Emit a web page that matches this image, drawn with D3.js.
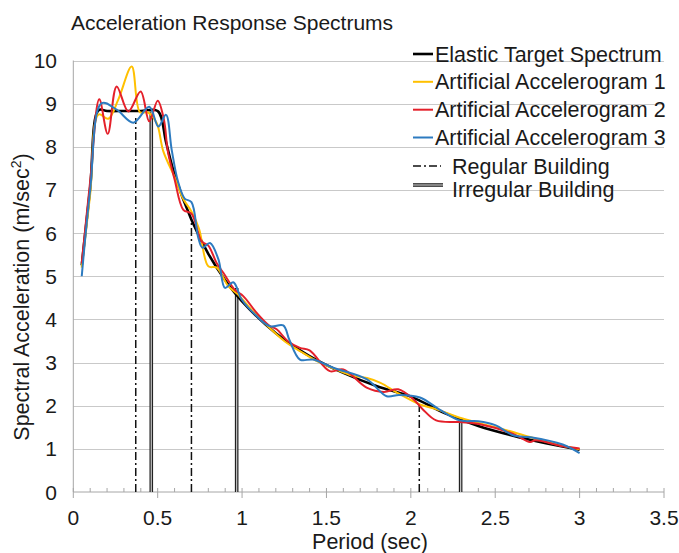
<!DOCTYPE html>
<html>
<head>
<meta charset="utf-8">
<script src="https://cdnjs.cloudflare.com/ajax/libs/d3/7.8.5/d3.min.js"></script>
<style>
  html, body { margin: 0; padding: 0; background: #fff; }
  svg text { font-family: "Liberation Sans", Arial, sans-serif; fill: #1a1a1a; }
  .grid line { stroke: #c9c9c9; stroke-width: 1; }
  .axis-line { stroke: #a6a6a6; stroke-width: 1; }
</style>
</head>
<body>
<svg id="chart" width="679" height="553"></svg>
<script>
/* ---------- data ---------- */
const xTicks = [0, 0.5, 1, 1.5, 2, 2.5, 3, 3.5];
const yTicks = [0, 1, 2, 3, 4, 5, 6, 7, 8, 9, 10];

// elastic target spectrum
const targetT  = [0.05, 0.1, 0.15, 0.2, 0.3, 0.4, 0.5, 0.55, 0.6, 0.7, 0.8, 0.9, 1.0, 1.2, 1.4, 1.6, 1.8, 2.0, 2.2, 2.4, 2.6, 2.8, 3.0];
const targetSa = [5.25, 7.05, 8.85, 8.83, 8.83, 8.83, 8.83, 8.1, 7.36, 6.31, 5.52, 4.91, 4.42, 3.68, 3.15, 2.76, 2.45, 2.21, 1.83, 1.53, 1.31, 1.13, 0.98];

// artificial accelerogram 1 (yellow)
const acc1T  = [0.05, 0.1, 0.15, 0.207, 0.267, 0.346, 0.395, 0.44, 0.494, 0.533, 0.6, 0.65, 0.7, 0.745, 0.8, 0.85, 0.918, 0.97, 1.05, 1.15, 1.25, 1.35, 1.45, 1.55, 1.65, 1.74, 1.82, 1.92, 2.054, 2.15, 2.29, 2.4, 2.55, 2.7, 2.85, 3.0];
const acc1Sa = [5.2, 6.9, 8.75, 8.65, 9.1, 9.86, 8.8, 8.8, 8.55, 7.9, 7.3, 6.8, 6.5, 6.1, 5.23, 5.2, 4.77, 4.6, 4.25, 3.85, 3.5, 3.25, 3.02, 2.85, 2.7, 2.64, 2.53, 2.3, 2.03, 1.92, 1.72, 1.6, 1.45, 1.28, 1.12, 0.99];

// artificial accelerogram 2 (red)
const acc2T  = [0.05, 0.1, 0.154, 0.204, 0.257, 0.326, 0.399, 0.45, 0.5, 0.537, 0.56, 0.6, 0.652, 0.7, 0.76, 0.8, 0.85, 0.889, 0.958, 1.007, 1.087, 1.16, 1.205, 1.27, 1.343, 1.4, 1.52, 1.6, 1.738, 1.84, 1.925, 2.015, 2.07, 2.15, 2.29, 2.41, 2.61, 2.706, 2.74, 2.9, 3.0];
const acc2Sa = [5.3, 7.2, 9.1, 8.3, 9.4, 8.82, 9.28, 8.59, 9.07, 8.63, 7.9, 7.25, 6.54, 6.45, 5.81, 5.71, 5.3, 5.08, 4.68, 4.54, 4.15, 3.86, 3.77, 3.5, 3.34, 3.28, 2.8, 2.84, 2.42, 2.32, 2.38, 2.15, 1.92, 1.66, 1.62, 1.57, 1.34, 1.16, 1.2, 1.06, 1.01];

// artificial accelerogram 3 (blue)
const acc3T  = [0.05, 0.1, 0.168, 0.257, 0.356, 0.45, 0.504, 0.549, 0.583, 0.62, 0.66, 0.7, 0.74, 0.765, 0.81, 0.86, 0.899, 0.948, 0.998, 1.08, 1.165, 1.244, 1.28, 1.343, 1.42, 1.54, 1.74, 1.857, 1.93, 2.054, 2.17, 2.29, 2.4, 2.5, 2.61, 2.71, 2.9, 3.0];
const acc3Sa = [5.0, 7.0, 9.01, 8.86, 8.56, 8.93, 8.47, 8.74, 7.93, 7.2, 6.8, 6.72, 5.9, 5.66, 5.77, 5.39, 4.73, 4.86, 4.46, 4.1, 3.84, 3.86, 3.53, 3.07, 3.07, 2.88, 2.61, 2.22, 2.25, 2.19, 1.91, 1.66, 1.64, 1.55, 1.31, 1.27, 1.1, 0.9];

// building periods (drop lines from the target spectrum)
const regularT    = [0.37, 0.70, 2.05];
const regularSa   = [8.67, 6.27, 2.15];
const irregularT  = [0.462, 0.968, 2.295];
const irregularSa = [8.82, 4.73, 1.70];

const seriesNames = ["Elastic Target Spectrum", "Artificial Accelerogram 1", "Artificial Accelerogram 2", "Artificial Accelerogram 3"];

/* ---------- layout ---------- */
const colors = ["#000000", "#FFC000", "#E4202A", "#2D7BC0"];
const widths = [2.6, 2, 2, 2];

const svg = d3.select("#chart");
const x = d3.scaleLinear().domain([0, 3.5]).range([73.3, 664]);
const y = d3.scaleLinear().domain([0, 10]).range([492, 60.5]);

// horizontal gridlines
svg.append("g").attr("class", "grid")
  .selectAll("line").data(yTicks.filter(d => d > 0)).join("line")
  .attr("x1", x(0)).attr("x2", x(3.5))
  .attr("y1", d => Math.round(y(d)) + 0.5).attr("y2", d => Math.round(y(d)) + 0.5);

// left axis line
svg.append("line").attr("class", "axis-line")
  .attr("x1", x(0)).attr("x2", x(0)).attr("y1", y(10)).attr("y2", y(0));

// x axis: major ticks cross, minor ticks inside
const xAxisG = svg.append("g").attr("transform", `translate(0,${y(0)})`);
xAxisG.append("line").attr("class", "axis-line").attr("x1", x(0)).attr("x2", x(3.5));
const minor = d3.range(0, 36).map(i => i / 10).filter(v => Math.abs(v * 2 - Math.round(v * 2)) > 1e-6);
xAxisG.selectAll(".minor").data(minor).join("line").attr("class", "axis-line minor")
  .attr("x1", d => x(d)).attr("x2", d => x(d)).attr("y1", -4).attr("y2", 0);
xAxisG.selectAll(".major").data(xTicks).join("line").attr("class", "axis-line major")
  .attr("x1", d => x(d)).attr("x2", d => x(d)).attr("y1", -4).attr("y2", 6);
xAxisG.selectAll("text").data(xTicks).join("text")
  .attr("x", d => x(d)).attr("y", 33).attr("text-anchor", "middle")
  .attr("font-size", 21).text(d => d);

// y tick labels
svg.append("g").selectAll("text").data(yTicks).join("text")
  .attr("x", 57).attr("y", d => y(d) + 7.5).attr("text-anchor", "end")
  .attr("font-size", 21).text(d => d);

// axis titles
svg.append("text").attr("x", 370).attr("y", 549).attr("text-anchor", "middle")
  .attr("font-size", 21.5).text("Period (sec)");

const yTitle = svg.append("text").attr("transform", "translate(29,297) rotate(-90)")
  .attr("text-anchor", "middle").attr("font-size", 21.5);
yTitle.append("tspan").text("Spectral Acceleration (m/sec");
yTitle.append("tspan").attr("font-size", 14).attr("dy", -8).text("2");
yTitle.append("tspan").attr("dy", 8).text(")");

svg.append("text").attr("x", 232).attr("y", 29.5).attr("text-anchor", "middle")
  .attr("font-size", 21).text("Acceleration Response Spectrums");

/* ---------- building period lines ---------- */
const bld = svg.append("g");
bld.selectAll(".reg").data(regularT).join("line").attr("class", "reg")
  .attr("x1", d => x(d)).attr("x2", d => x(d))
  .attr("y1", y(0)).attr("y2", (d, i) => y(regularSa[i]))
  .attr("stroke", "#111").attr("stroke-width", 1.5).attr("stroke-dasharray", "8,3,2,3");

function doubleLine(sel, x1, y1, x2, y2) {
  sel.append("line").attr("x1", x1).attr("x2", x2).attr("y1", y1).attr("y2", y2)
    .attr("stroke", "#222").attr("stroke-width", 3.6);
  sel.append("line").attr("x1", x1).attr("x2", x2).attr("y1", y1).attr("y2", y2)
    .attr("stroke", "#c8c8c8").attr("stroke-width", 1.2);
}
irregularT.forEach((t, i) => doubleLine(bld, x(t), y(0), x(t), y(irregularSa[i])));

/* ---------- spectra ---------- */
const line = d3.line().x(d => x(d[0])).y(d => y(d[1])).curve(d3.curveCatmullRom.alpha(0.5));
const series = [
  d3.zip(targetT, targetSa),
  d3.zip(acc1T, acc1Sa),
  d3.zip(acc2T, acc2Sa),
  d3.zip(acc3T, acc3Sa)
];
svg.append("g").selectAll("path").data(series).join("path")
  .attr("d", line).attr("fill", "none")
  .attr("stroke", (d, i) => colors[i]).attr("stroke-width", (d, i) => widths[i])
  .attr("stroke-linejoin", "round");

/* ---------- legend ---------- */
const leg = svg.append("g");
const rowY = [61.5, 89.3, 117.2, 145];
seriesNames.forEach((name, i) => {
  leg.append("line").attr("x1", 413).attr("x2", 433)
    .attr("y1", rowY[i] - 7.5).attr("y2", rowY[i] - 7.5)
    .attr("stroke", colors[i]).attr("stroke-width", i === 0 ? 2.6 : 2);
  leg.append("text").attr("x", 435).attr("y", rowY[i]).attr("font-size", 21.5).text(name);
});
leg.append("line").attr("x1", 413).attr("x2", 441).attr("y1", 166).attr("y2", 166)
  .attr("stroke", "#111").attr("stroke-width", 1.5).attr("stroke-dasharray", "8,3,2,3");
leg.append("text").attr("x", 452).attr("y", 173.5).attr("font-size", 21.5).text("Regular Building");
doubleLine(leg, 413, 185, 443, 185);
leg.append("text").attr("x", 452).attr("y", 197).attr("font-size", 21.5).text("Irregular Building");
</script>
</body>
</html>
